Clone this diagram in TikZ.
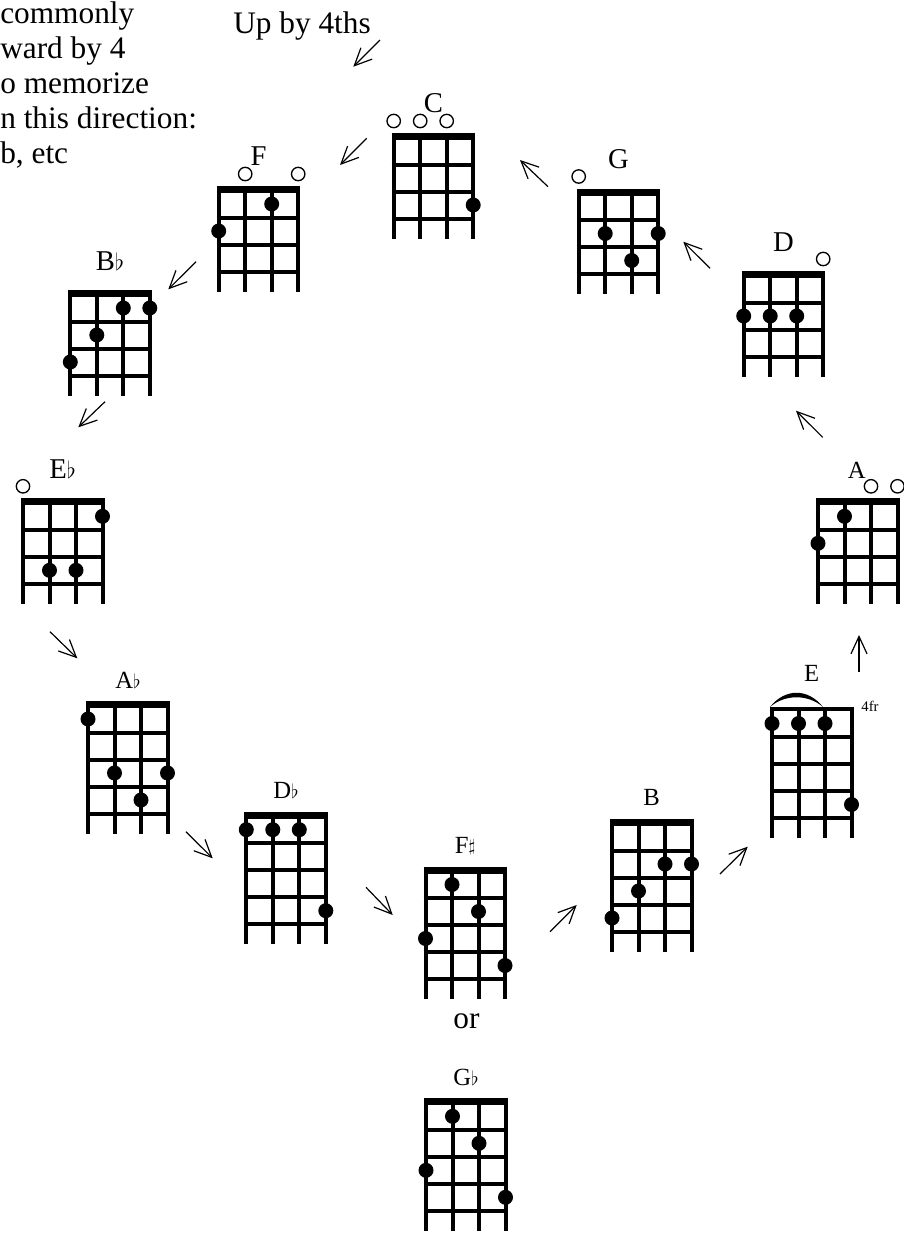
\documentclass[tikz,border=0pt]{standalone}
\usepackage{fontspec}
\setmainfont{Liberation Serif}
\usetikzlibrary{arrows.meta}

\newcommand{\flt}{\scalebox{0.85}{$\flat$}}
\newcommand{\shp}{\raisebox{1.5pt}{\scalebox{0.75}{$\sharp$}}}

\newcommand{\ukchord}[5]{%
  \begin{scope}[shift={(#1,#2)}]
    \draw[#3] (-2,-1) -- (81.5,-1);
    \foreach \f in {1,...,#4} \draw[fretline] (-2,\f*27) -- (81.5,\f*27);
    \foreach \s in {0,...,3} \draw[stringline] (\s*26.5,0) -- (\s*26.5,#4*27+20);
    \foreach \s/\f in {#5} \fill ({(\s-1)*26.5},\f*27-13.5) circle[radius=7.5];
  \end{scope}}
\newcommand{\ukopen}[3]{%
  \foreach \s in {#3} \draw[opencirc] ({#1+(\s-1)*26.5},#2-16.5) circle[radius=6.7];}

\begin{document}
\begin{tikzpicture}[x=0.75pt,y=-0.75pt,
  chordname/.style={anchor=base,inner sep=0,font=\fontsize{21.5}{21.5}\selectfont},
  chordnamesm/.style={anchor=base,inner sep=0,font=\fontsize{18.5}{18.5}\selectfont},
  note/.style={anchor=base west,inner sep=0,font=\fontsize{23.5}{27.5}\selectfont},
  nutbar/.style={line width=5.25pt},
  fretline/.style={line width=3pt},
  stringline/.style={line width=3pt},
  opencirc/.style={line width=1pt},
  flow/.style={-{Straight Barb[length=13pt,width=12pt]},line width=0.9pt}]
\useasboundingbox (0,0) rectangle (904,1233);

\foreach \t/\y [count=\i] in {commonly/23.5, ward by 4/58.5, o memorize/93.5,
    n this direction:/128.5, {b, etc}/163.5}
  \node[note] (txt\i) at (0,\y) {\t};
\node[note] (up) at (233,33) {Up by 4ths};

\ukchord{393.7}{137.5}{nutbar}{3}{4/3}
\ukopen{393.7}{137.5}{1,2,3}
\ukchord{218.7}{190.5}{nutbar}{3}{3/1,1/2}
\ukopen{218.7}{190.5}{2,4}
\ukchord{70.3}{294.5}{nutbar}{3}{3/1,4/1,2/2,1/3}
\ukchord{23}{502.8}{nutbar}{3}{4/1,2/3,3/3}
\ukopen{23}{502.8}{1}
\ukchord{88}{705.5}{nutbar}{4}{1/1,2/3,4/3,3/4}
\ukchord{246.3}{816.2}{nutbar}{4}{1/1,2/1,3/1,4/4}
\ukchord{425.5}{871}{nutbar}{4}{2/1,3/2,1/3,4/4}
\ukchord{426}{1102.8}{nutbar}{4}{2/1,3/2,1/3,4/4}
\ukchord{612}{823.5}{nutbar}{4}{1/4,2/3,3/2,4/2}
\ukchord{772}{710}{fretline}{4}{1/1,2/1,3/1,4/4}
\fill (770,707) .. controls (785,688) and (808,688) .. (823,707)
  .. controls (808,694) and (785,694) .. cycle;
\ukchord{818}{502.8}{nutbar}{3}{2/1,1/2}
\ukopen{818}{502.8}{3,4}
\ukchord{743.7}{275.5}{nutbar}{3}{1/2,2/2,3/2}
\ukopen{743.7}{275.5}{4}
\ukchord{578.7}{193}{nutbar}{3}{2/2,4/2,3/3}
\ukopen{578.7}{193}{1}

\node[chordname] (C) at (433.5,112) {C};
\node[chordname] (F) at (258.5,165) {F};
\node[chordname] (Bb) at (110,270) {B\flt};
\node[chordname] (Eb) at (62.7,478.3) {E\flt};
\node[chordname] (D) at (783.5,251.7) {D};
\node[chordname] (G) at (618.5,168.3) {G};
\node[chordnamesm] (A) at (856.7,478.3) {A};
\node[chordnamesm] (Ab) at (128,688) {A\flt};
\node[chordnamesm] (Db) at (286,798.3) {D\flt};
\node[chordnamesm] (Fs) at (465,853.3) {F\shp};
\node[chordnamesm] (Gb) at (466,1085) {G\flt};
\node[chordnamesm] (B) at (651.7,805) {B};
\node[chordnamesm] (E) at (811.7,681) {E};
\node[note,anchor=base] (or) at (466.5,1028) {or};
\node[anchor=base,inner sep=0,font=\fontsize{11}{11}\selectfont] (fr) at (870,711.7) {4fr};

\coordinate (a1) at (380,40);      \coordinate (b1) at (353.3,66.7);
\coordinate (a2) at (366.7,138.3); \coordinate (b2) at (340,165);
\coordinate (a3) at (196,261.7);   \coordinate (b3) at (168.3,289.3);
\coordinate (a4) at (105,401.7);   \coordinate (b4) at (78.3,427.3);
\coordinate (a5) at (50,631.7);    \coordinate (b5) at (77.3,658.3);
\coordinate (a6) at (186,831.7);   \coordinate (b6) at (212.7,858.3);
\coordinate (a7) at (366,887.3);   \coordinate (b7) at (392.7,915);
\coordinate (a8) at (550,931.7);   \coordinate (b8) at (576.7,905);
\coordinate (a9) at (720,874);     \coordinate (b9) at (747.7,846.7);
\coordinate (a10) at (859,672.3);  \coordinate (b10) at (859,635);
\coordinate (a11) at (822.7,437.3);\coordinate (b11) at (796,410.7);
\coordinate (a12) at (710,268.3);  \coordinate (b12) at (683.3,241.7);
\coordinate (a13) at (548,186.7);  \coordinate (b13) at (520,160);
\foreach \i in {1,...,13} \draw[flow] (a\i) -- (b\i);
\end{tikzpicture}
\end{document}
